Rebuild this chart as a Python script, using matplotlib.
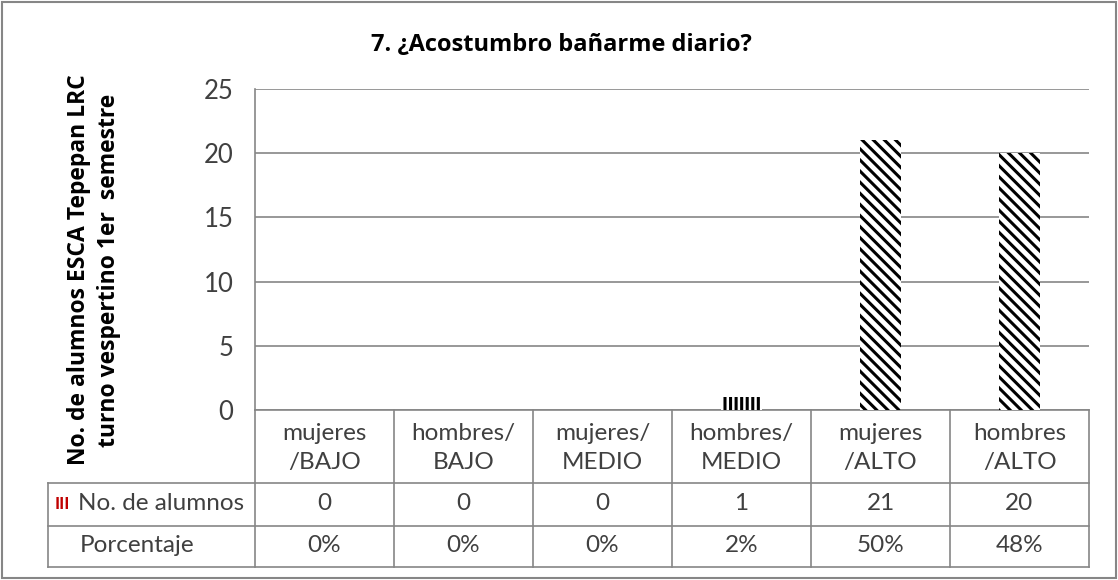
import numpy as np
import matplotlib
matplotlib.use("Agg")
import matplotlib.pyplot as plt
from matplotlib import transforms
from matplotlib.patches import Rectangle

categorias = ["mujeres\n/BAJO", "hombres/\nBAJO", "mujeres/\nMEDIO",
              "hombres/\nMEDIO", "mujeres\n/ALTO", "hombres\n/ALTO"]
alumnos = [0, 0, 0, 1, 21, 20]
porcentaje = ["0%", "0%", "0%", "2%", "50%", "48%"]
titulo = "7. ¿Acostumbro bañarme diario?"
ylabel = "No. de alumnos ESCA Tepepan LRC\nturno vespertino 1er  semestre"
yticks = [0, 5, 10, 15, 20, 25]

plt.rcParams['font.family'] = ['Lato', 'DejaVu Sans']
plt.rcParams['hatch.linewidth'] = 2.2
W, H = 1118, 580
gris = '#868686'
txt = '#404040'
fs = 17.5
bold_font = ['Open Sans', 'DejaVu Sans']

fig = plt.figure(figsize=(W / 100, H / 100), dpi=100)

def fx(px):
    return px / W

def fy(py):
    return 1 - py / H

# plot area in pixels: x 255..1089, y 89..410
ax = fig.add_axes([fx(255), fy(410), fx(1089) - fx(255), fy(89) - fy(410)])
x = np.arange(len(categorias))
hatches = ['\\\\\\' if v > 1 else '|||' for v in alumnos]
for xi, v, h in zip(x, alumnos, hatches):
    ax.bar(xi, v, width=0.29, color='white', edgecolor='black', hatch=h,
           linewidth=0, zorder=3)
ax.set_xlim(-0.5, len(categorias) - 0.5)
ax.set_ylim(0, 25)
ax.set_yticks(yticks)
ax.set_xticks([])
ax.tick_params(axis='y', length=0, pad=15.5, labelsize=18.5, labelcolor=txt)
ax.yaxis.grid(True, color=gris, linewidth=1.2)
ax.set_axisbelow(True)
for s in ['top', 'right']:
    ax.spines[s].set_visible(False)
ax.spines['left'].set_color(gris)
ax.spines['bottom'].set_color(gris)
ax.spines['left'].set_linewidth(1.2)
ax.spines['bottom'].set_linewidth(1.2)

fig.text(fx(561), fy(45), titulo, ha='center', va='center',
         fontsize=17, fontweight='bold', color='black', family=bold_font)
fig.text(fx(94), fy(270), ylabel, ha='center', va='center', rotation=90,
         fontsize=16.5, fontweight='bold', color='black', family=bold_font,
         multialignment='center', linespacing=1.32)

# data table under the axis
bt = transforms.blended_transform_factory(ax.transData, fig.transFigure)
row_y = [410, 483, 526, 567]
lw = 1.2
for xb in np.arange(len(categorias) + 1) - 0.5:
    ax.plot([xb, xb], [fy(410), fy(567)], transform=bt, color=gris,
            lw=lw, clip_on=False)
for py in row_y[1:]:
    fig.add_artist(plt.Line2D([fx(48), fx(1089)], [fy(py), fy(py)],
                              color=gris, lw=lw))
fig.add_artist(plt.Line2D([fx(48), fx(48)], [fy(483), fy(567)],
                          color=gris, lw=lw))

for xi, c, a, p in zip(x, categorias, alumnos, porcentaje):
    ax.text(xi, fy(448), c, transform=bt, ha='center', va='center',
            fontsize=fs, color=txt, linespacing=1.45)
    ax.text(xi, fy(504), str(a), transform=bt, ha='center', va='center',
            fontsize=fs, color=txt)
    ax.text(xi, fy(546), p, transform=bt, ha='center', va='center',
            fontsize=fs, color=txt)

fig.text(fx(55), fy(504), "III", ha='left', va='center', fontsize=12.5,
         fontweight='bold', color='#C00000')
fig.text(fx(78), fy(504), "No. de alumnos", ha='left', va='center',
         fontsize=fs, color=txt)
fig.text(fx(80), fy(546), "Porcentaje", ha='left', va='center',
         fontsize=fs, color=txt)

fig.add_artist(Rectangle((fx(2), fy(578)), fx(1114), fy(2) - fy(578),
                         transform=fig.transFigure, fill=False,
                         edgecolor=gris, lw=1.5))

fig.savefig("out.png", dpi=100)
